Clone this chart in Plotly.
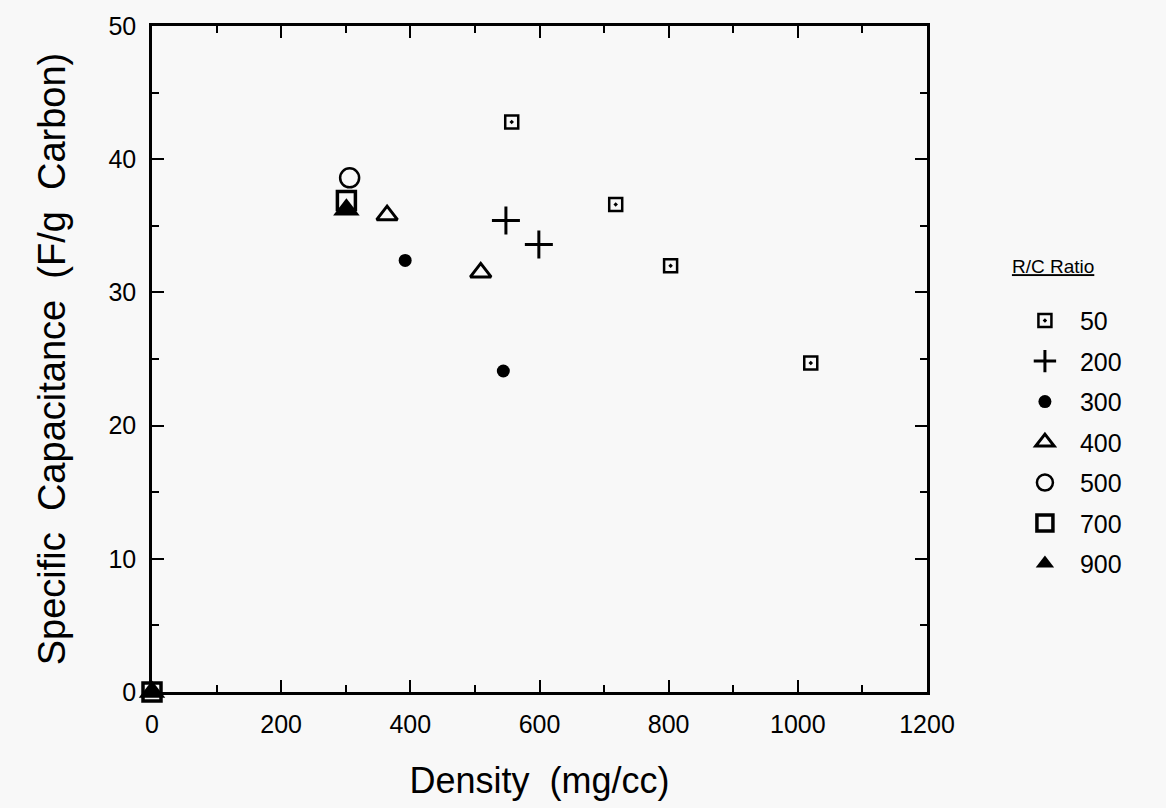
import plotly.graph_objects as go

# R/C ratio series: density (mg/cc) and specific capacitance (F/g carbon)
rc50_x = [557, 718, 803, 1020]
rc50_y = [42.8, 36.6, 32.0, 24.7]
rc200_x = [548, 599]
rc200_y = [35.4, 33.6]
rc300_x = [392, 544]
rc300_y = [32.4, 24.1]
rc400_x = [364, 509]
rc400_y = [35.8, 31.5]
rc500_x = [306]
rc500_y = [38.6]
rc700_x = [0, 301]
rc700_y = [0, 36.9]
rc900_x = [0, 301]
rc900_y = [0, 36.2]

x_ticks = [0, 200, 400, 600, 800, 1000, 1200]
y_ticks = [0, 10, 20, 30, 40, 50]

series = [
    ("50", rc50_x, rc50_y, dict(symbol="square-open-dot", size=13, line=dict(width=2.5, color="black"))),
    ("200", rc200_x, rc200_y, dict(symbol="cross-thin-open", size=20, line=dict(width=3, color="black"))),
    ("300", rc300_x, rc300_y, dict(symbol="circle", size=13, line=dict(width=0))),
    ("400", rc400_x, rc400_y, dict(symbol="triangle-up-open", size=18, line=dict(width=3, color="black"))),
    ("500", rc500_x, rc500_y, dict(symbol="circle-open", size=19, line=dict(width=2.5, color="black"))),
    ("700", rc700_x, rc700_y, dict(symbol="square-open", size=18, line=dict(width=3.5, color="black"))),
    ("900", rc900_x, rc900_y, dict(symbol="triangle-up", size=23, line=dict(width=0))),
]

fig = go.Figure()
for name, xs, ys, mk in series:
    mk = dict(mk, color="black")
    fig.add_trace(go.Scatter(x=xs, y=ys, mode="markers", name=name, marker=mk,
                             legendgroup=name, cliponaxis=False))

FONT = "Liberation Sans, Arial, sans-serif"
axis_common = dict(
    showline=True, linecolor="black", linewidth=2.5, mirror="ticks",
    ticks="inside", ticklen=12, tickwidth=2, tickcolor="black",
    showgrid=False, zeroline=False, ticklabelstandoff=8,
    tickfont=dict(family=FONT, size=25, color="black"),
)

NB = "\u00a0"
fig.update_layout(
    width=1166, height=808,
    margin=dict(l=152, r=239, t=16, b=116),
    paper_bgcolor="#f8f8f8", plot_bgcolor="#f8f8f8",
    font=dict(family=FONT, color="black"),
    xaxis=dict(axis_common, range=[0, 1200], tickvals=x_ticks,
               minor=dict(dtick=100, ticklen=7, tickwidth=2, tickcolor="black", ticks="inside"),
               title=dict(text="Density" + NB + " (mg/cc)", font=dict(family=FONT, size=36), standoff=32)),
    yaxis=dict(axis_common, range=[0, 50], tickvals=y_ticks,
               minor=dict(dtick=5, ticklen=7, tickwidth=2, tickcolor="black", ticks="inside"),
               title=dict(text=NB * 3 + "Specific" + NB + " Capacitance" + NB + " (F/g" + NB + " Carbon)",
                          font=dict(family=FONT, size=38), standoff=32)),
    legend=dict(
        x=1.107, xanchor="left", y=0.666, yanchor="top",
        title=dict(text="<u>R/C Ratio</u><br>", font=dict(family=FONT, size=19)),
        font=dict(family=FONT, size=25, color="black"),
        itemwidth=60, tracegroupgap=5, bgcolor="rgba(0,0,0,0)",
    ),
    showlegend=True,
)

fig.write_html("out.html", config={"displayModeBar": False},
               post_script="document.body.style.margin='0';")
